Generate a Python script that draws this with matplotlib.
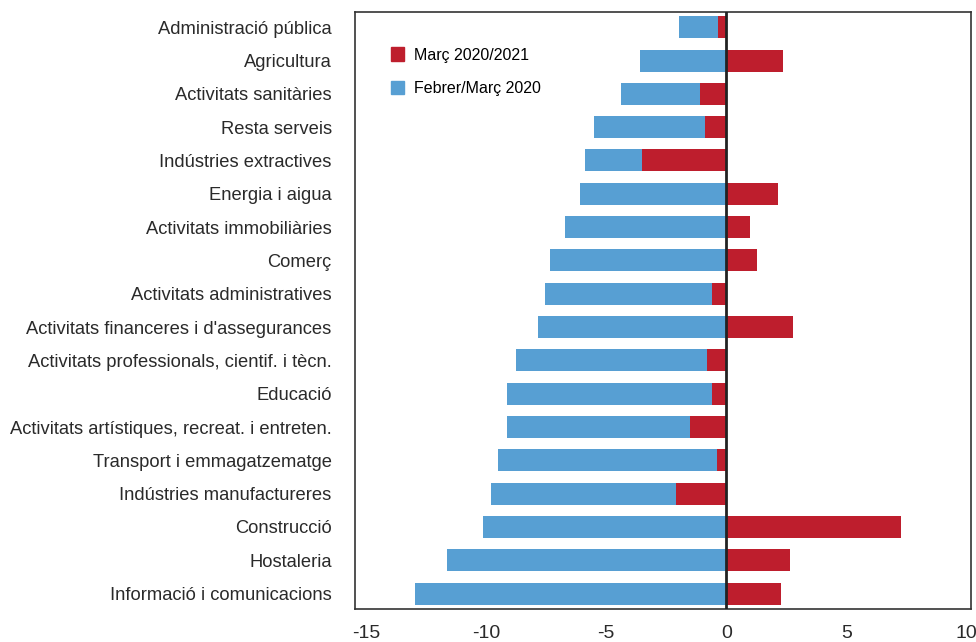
import matplotlib
matplotlib.use("Agg")
import matplotlib.pyplot as plt
from matplotlib.patches import Patch

# Sector labels, top to bottom
sectors = [
    "Administració pública",
    "Agricultura",
    "Activitats sanitàries",
    "Resta serveis",
    "Indústries extractives",
    "Energia i aigua",
    "Activitats immobiliàries",
    "Comerç",
    "Activitats administratives",
    "Activitats financeres i d'assegurances",
    "Activitats professionals, cientif. i tècn.",
    "Educació",
    "Activitats artístiques, recreat. i entreten.",
    "Transport i emmagatzematge",
    "Indústries manufactureres",
    "Construcció",
    "Hostaleria",
    "Informació i comunicacions",
]
feb_mar_2020 = [-1.95, -3.6, -4.4, -5.5, -5.9, -6.1, -6.7, -7.35, -7.55,
                -7.85, -8.75, -9.15, -9.15, -9.5, -9.8, -10.15, -11.65, -12.95]
mar_2020_2021 = [-0.35, 2.35, -1.1, -0.9, -3.5, 2.15, 1.0, 1.3, -0.6,
                 2.8, -0.8, -0.6, -1.5, -0.4, -2.1, 7.3, 2.65, 2.3]

blue = "#579fd3"
red = "#be1e2d"

plt.rcParams["font.family"] = ["Liberation Sans", "DejaVu Sans"]

fig = plt.figure(figsize=(9.76, 6.42), dpi=100)
ax = fig.add_axes([0.364, 0.052, 0.631, 0.929])

y = list(range(len(sectors)))
ax.barh(y, feb_mar_2020, height=0.66, color=blue, zorder=2)
ax.barh(y, mar_2020_2021, height=0.66, color=red, zorder=3)
ax.axvline(0, color="#222222", linewidth=2, zorder=4)

ax.set_xlim(-15.45, 10.2)
ax.set_ylim(len(sectors) - 0.55, -0.45)
ax.set_yticks(y)
ax.set_yticklabels(sectors, fontsize=13.2, color="#2a2a2a")
ax.set_xticks([-15, -10, -5, 0, 5, 10])
ax.set_xticklabels(["-15", "-10", "-5", "0", "5", "10"], fontsize=14, color="#2a2a2a")
ax.tick_params(axis="y", length=0, pad=17)
ax.tick_params(axis="x", length=0, pad=12)

for s in ax.spines.values():
    s.set_color("#333333")
    s.set_linewidth(1.2)

handles = [Patch(color=red, label="Març 2020/2021"),
           Patch(color=blue, label="Febrer/Març 2020")]
ax.legend(handles=handles, loc="upper left", bbox_to_anchor=(0.035, 0.965),
          frameon=False, fontsize=11.5, handlelength=0.8, handleheight=0.9,
          labelspacing=1.15, handletextpad=0.6)

fig.savefig("out.png", dpi=100)
